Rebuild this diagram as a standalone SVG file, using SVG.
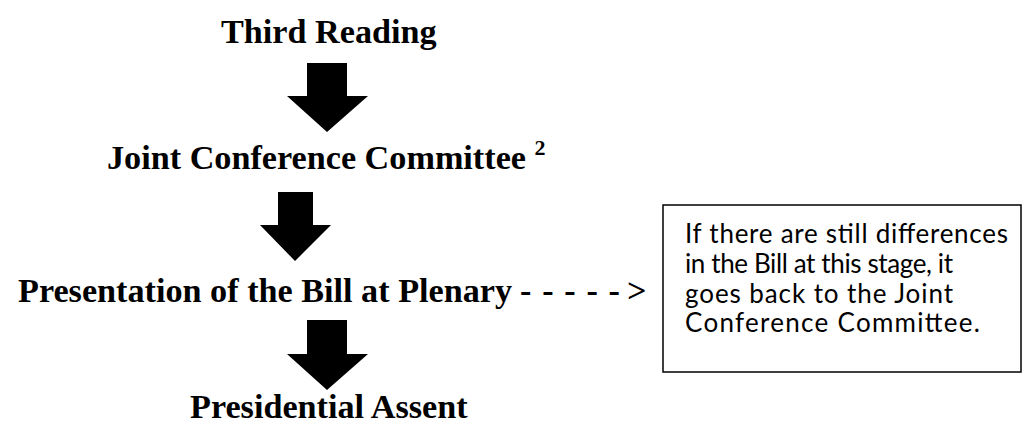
<svg xmlns="http://www.w3.org/2000/svg" width="1022" height="430" viewBox="0 0 1022 430">
<style>
.t{font-family:"Liberation Serif","Times New Roman",serif;font-weight:bold;font-size:34.2px;fill:#000}
.n{font-family:Lato,"Liberation Sans",sans-serif;font-size:26px;fill:#000}
.ar{fill:#000}
</style>
<rect width="1022" height="430" fill="#fff"/>
<g id="third-reading"><text class="t" x="221" y="43">Third Reading</text></g>
<g id="joint-conference"><text class="t" x="107" y="169">Joint Conference Committee <tspan font-size="22" dy="-14">2</tspan></text></g>
<g id="presentation"><text class="t" x="18" y="302">Presentation of the Bill at Plenary <tspan x="520" textLength="100" lengthAdjust="spacing">- - - - -</tspan><tspan x="627">&gt;</tspan></text></g>
<g id="presidential-assent"><text class="t" x="190" y="418">Presidential Assent</text></g>
<g id="note">
<rect x="663" y="205" width="358" height="167" fill="#fff" stroke="#000" stroke-width="1.5"/>
<text class="n" x="685" y="243" textLength="323">If there are still differences</text>
<text class="n" x="685" y="273" textLength="268">in the Bill at this stage, it</text>
<text class="n" x="685" y="303" textLength="268">goes back to the Joint</text>
<text class="n" x="685" y="332" textLength="295">Conference Committee.</text>
</g>
<g id="connectors">
<polygon class="ar" points="307,63 347,63 347,96 368,96 327,132 287,96 307,96"/>
<polygon class="ar" points="278,192 313,192 313,225 331,225 295,261 260,225 278,225"/>
<polygon class="ar" points="307,320 347,320 347,354 368,354 327,390 287,354 307,354"/>
</g>
</svg>
